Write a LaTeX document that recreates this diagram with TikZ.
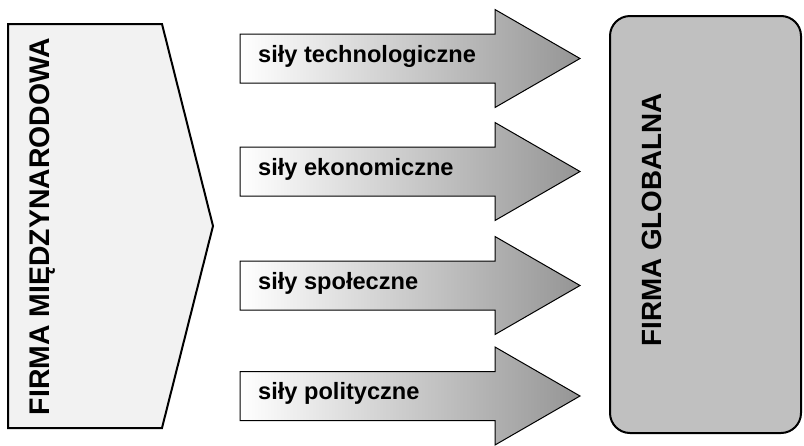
\documentclass[tikz,border=0pt]{standalone}
\usepackage{fontspec}
\setmainfont{Liberation Sans}
\definecolor{pentafill}{HTML}{F2F2F2}
\definecolor{globalfill}{HTML}{C0C0C0}
\definecolor{arrowdark}{HTML}{959595}
\begin{document}
\begin{tikzpicture}[x=1pt,y=-1pt,
  bigtext/.style={font=\fontsize{28.4}{30}\selectfont\bfseries, rotate=90, inner sep=0pt},
  globaltext/.style={font=\fontsize{27.8}{30}\selectfont\bfseries, rotate=90, inner sep=0pt},
  forcetext/.style={font=\fontsize{23.6}{26}\selectfont\bfseries, anchor=base west, inner sep=0pt},
  forcearrow/.style={draw=black, line width=1pt, line join=miter, left color=white, right color=arrowdark}]
\useasboundingbox (0,0) rectangle (804,445);
% left pentagon
\draw[line width=2pt, fill=pentafill] (8,24) -- (162,24) -- (213,226) -- (162,428) -- (8,428) -- cycle;
\node[bigtext] (mn) at (43,226.5) {FIRMA MIĘDZYNARODOWA};
% right rounded box
\draw[line width=2pt, fill=globalfill, rounded corners=20pt] (610,16) rectangle (801,433);
\node[globaltext] (fg) at (652,220) {FIRMA GLOBALNA};
% arrows
\foreach \c/\t/\n in {58.5/siły technologiczne/a1, 171.5/siły ekonomiczne/a2, 285.5/siły społeczne/a3, 396/siły polityczne/a4}{
  \draw[forcearrow] (240,\c-24.5) -- (495,\c-24.5) -- (495,\c-49) -- (580,\c) -- (495,\c+49) -- (495,\c+24.5) -- (240,\c+24.5) -- cycle;
  \node[forcetext] (\n) at (258,\c+3.5) {\t};
}
\end{tikzpicture}
\end{document}
